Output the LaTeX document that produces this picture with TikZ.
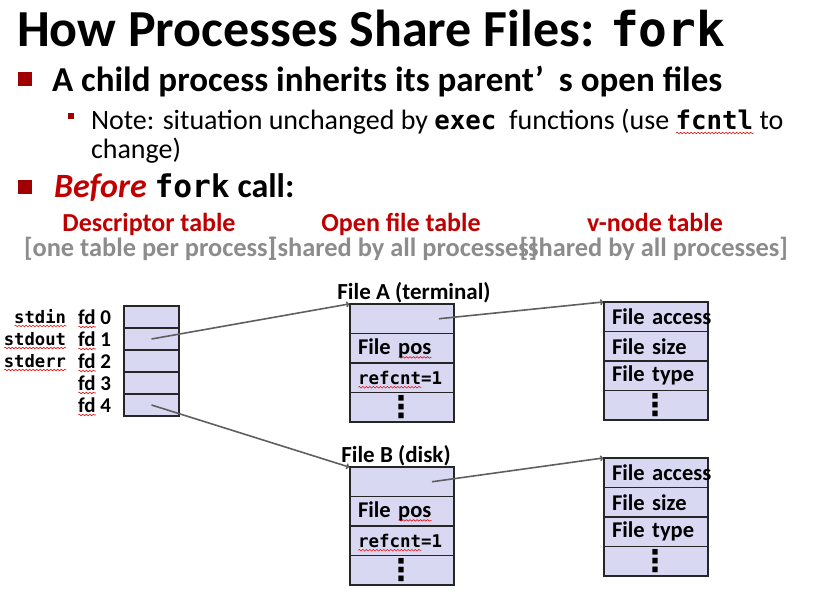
\documentclass[tikz,border=0pt]{standalone}
\usepackage{fontspec}
\setmainfont{Carlito}
\setmonofont[Scale=0.92]{DejaVu Sans Mono}
\newfontfamily\symfont{DejaVu Sans}
\usepackage{xcolor}
\usepackage{tikz}
\usetikzlibrary{
  arrows.meta,
  positioning,
  decorations.pathmorphing,
}
\definecolor{slidered}{HTML}{C00000}
\definecolor{bulletred}{HTML}{A00000}
\definecolor{hdrgray}{HTML}{8C8C8C}
\definecolor{cellfill}{HTML}{D8D8F2}
\definecolor{ptrgray}{HTML}{5F5F5F}
\definecolor{spellred}{HTML}{E81010}
\newsavebox\splbox
\newcommand\spl[1]{\sbox\splbox{#1}%
  \rlap{\smash{\tikz[baseline=0pt, x=1pt, y=1pt]
    \draw[spellred, line width=0.6pt, decorate,
      decoration={snake, amplitude=0.8pt, segment length=3.5pt}]
      (0,-3) -- (\the\wd\splbox,-3);}}\usebox\splbox}
\newcommand\vdts{\hspace*{28pt}{\symfont\bfseries\fontsize{30}{30}\selectfont ⋮}}
\newcommand\cntfont{\fontsize{19}{19}\selectfont\ttfamily}

\begin{document}
\begin{tikzpicture}[x=1pt, y=-1pt,
  every node/.style={inner sep=0pt, outer sep=0pt},
  cell/.style={draw=black!85, line width=1.2pt, fill=cellfill, anchor=north west,
    minimum width=55pt, minimum height=22pt},
  ofcell/.style={cell, minimum width=104pt, minimum height=29.5pt, text width=88pt,
    inner xsep=8pt, align=left, font=\fontsize{22.5}{22.5}\selectfont\bfseries},
  fdlbl/.style={anchor=base east, font=\fontsize{21}{21}\selectfont\bfseries},
  stdlbl/.style={anchor=base east, font=\fontsize{18.7}{18.7}\selectfont\ttfamily\bfseries},
  tbltitle/.style={anchor=base, font=\fontsize{23}{23}\selectfont\bfseries},
  hdr/.style={anchor=base, text=slidered, font=\fontsize{26}{26}\selectfont\bfseries},
  scope/.style={anchor=base west, text=hdrgray, font=\fontsize{26.4}{26.4}\selectfont\bfseries},
  ptr/.style={draw=ptrgray, line width=1.6pt, -{To[length=3pt, width=6pt]}},
]
  \useasboundingbox (0,0) rectangle (830,596);

  % slide text
  \node[anchor=base west, font=\fontsize{52}{52}\selectfont\bfseries] (title) at (17,47)
    {How Processes Share Files: \texttt{fork}};
  \node[fill=bulletred, minimum size=14pt, anchor=north west] (b1) at (18,72) {};
  \node[anchor=base west, font=\fontsize{35}{35}\selectfont\bfseries] (t1) at (52,92)
    {A child process inherits its parent’\hspace{15pt}s open files};
  \node[fill=bulletred, minimum size=6pt, anchor=north west] (b2) at (68,113) {};
  \node[anchor=base west, font=\fontsize{28}{28}\selectfont] (t2) at (91,130)
    {Note: situation unchanged by \texttt{\textbf{exec}}\ \ functions (use \texttt{\textbf{\spl{fcntl}}} to};
  \node[anchor=base west, font=\fontsize{28}{28}\selectfont] (t2b) at (91,159) {change)};
  \node[fill=bulletred, minimum size=14pt, anchor=north west] (b3) at (18,180) {};
  \node[anchor=base west, font=\fontsize{34}{34}\selectfont\bfseries] (t3) at (54,198)
    {\textcolor{slidered}{\textit{Before}} \texttt{fork} call:};

  % column headers
  \node[hdr] (hdesc) at (149,232) {Descriptor table};
  \node[hdr] (hopen) at (401,232) {Open file table};
  \node[hdr] (hvnode) at (655,232) {v-node table};
  \node[scope] (sdesc) at (24,256) {[one table per process]};
  \node[scope] (sopen) at (269,256) {[shared by all processes]};
  \node[scope, anchor=base east] (svnode) at (788,256) {[shared by all processes]};

  % descriptor table
  \foreach \i in {0,...,4} {
    \node[cell] (fd\i) at (124,{306+22*\i}) {};
    \node[fdlbl] (fdl\i) at (111,{324+22*\i}) {\spl{fd} \i};
  }
  \foreach \s [count=\i from 0] in {stdin,stdout,stderr}
    \node[stdlbl] (std\i) at (66,{323+22*\i}) {\spl{\s}};

  % open file table
  \node[tbltitle] (fatitle) at (414,299) {File A (terminal)};
  \node[ofcell] (fa0) at (350,304) {};
  \node[ofcell, below=0pt of fa0] (fa1) {File \spl{pos}};
  \node[ofcell, below=0pt of fa1] (fa2) {{\cntfont\spl{refcnt}=1}};
  \node[ofcell, below=0pt of fa2] (fa3) {\vdts};

  \node[tbltitle] (fbtitle) at (396,462) {File B (disk)};
  \node[ofcell] (fb0) at (350,467) {};
  \node[ofcell, below=0pt of fb0] (fb1) {File \spl{pos}};
  \node[ofcell, below=0pt of fb1] (fb2) {{\cntfont\spl{refcnt}=1}};
  \node[ofcell, below=0pt of fb2] (fb3) {\vdts};

  % v-node table
  \node[ofcell] (va0) at (604,302) {\mbox{File access}};
  \node[ofcell, below=0pt of va0] (va1) {File size};
  \node[ofcell, below=0pt of va1] (va2) {File type};
  \node[ofcell, below=0pt of va2] (va3) {\vdts};

  \node[ofcell] (vb0) at (604,458) {\mbox{File access}};
  \node[ofcell, below=0pt of vb0] (vb1) {File size};
  \node[ofcell, below=0pt of vb1] (vb2) {File type};
  \node[ofcell, below=0pt of vb2] (vb3) {\vdts};

  % pointers
  \draw[ptr] (fd1.center) -- ([xshift=-1pt]fa0.north west);
  \draw[ptr] ([xshift=-15pt]fa0.east) -- ([xshift=-1pt]va0.north west);
  \draw[ptr] (fd4.center) -- ([xshift=-1pt]fb0.north west);
  \draw[ptr] ([xshift=-22pt]fb0.east) -- ([xshift=-1pt]vb0.north west);
\end{tikzpicture}
\end{document}
